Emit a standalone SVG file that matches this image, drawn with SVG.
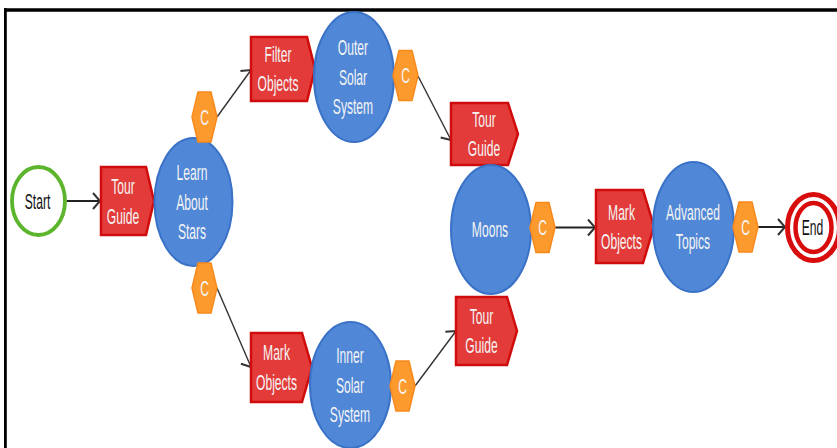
<svg xmlns="http://www.w3.org/2000/svg" width="837" height="448" viewBox="0 0 837 448">
<style>
.t{font-family:"Liberation Sans",Arial,sans-serif;font-size:22px;text-anchor:middle;fill:#f4f4f4}
.k{fill:#111}
.blue{fill:#5087d6;stroke:#3a72c8;stroke-width:2}
.red{fill:#e23b39;stroke:#d00c0c;stroke-width:2.5;stroke-linejoin:miter}
.hex{fill:#fd9a2e;stroke:#f8891c;stroke-width:1.5}
.c{fill:none;stroke:#333;stroke-width:1.4}
.h{stroke-width:2;stroke:#222}
</style>
<defs>
<marker id="arr" markerUnits="userSpaceOnUse" orient="auto" overflow="visible" markerWidth="20" markerHeight="20" refX="0" refY="0">
<path d="M-7,-8 L0,0 L-7,8" fill="none" stroke="#333" stroke-width="2"/>
</marker>
</defs>
<rect width="837" height="448" fill="#fff"/>
<g id="frame" stroke="#000">
<line x1="4" y1="10" x2="837" y2="10" stroke-width="3.7"/>
<line x1="5.4" y1="8.2" x2="5.4" y2="448" stroke-width="2.8"/>
</g>
<g id="connectors">
<line class="c h" x1="66.5" y1="201" x2="100" y2="201" marker-end="url(#arr)"/>
<line class="c" x1="217" y1="117" x2="251" y2="70" marker-end="url(#arr)"/>
<line class="c" x1="217" y1="288" x2="251" y2="367" marker-end="url(#arr)"/>
<line class="c" x1="418" y1="76" x2="451" y2="140" marker-end="url(#arr)"/>
<line class="c" x1="415" y1="386" x2="456" y2="331" marker-end="url(#arr)"/>
<line class="c h" x1="555" y1="227.5" x2="595" y2="227.5" marker-end="url(#arr)"/>
<line class="c h" x1="758" y1="227" x2="785" y2="227" marker-end="url(#arr)"/>
</g>
<g id="start">
<ellipse cx="38.5" cy="201" rx="26.5" ry="34" fill="#fff" stroke="#5cb52c" stroke-width="3.8"/>
<g transform="translate(37.5,0) scale(0.55,1)"><text class="t k" x="0" y="209">Start</text></g>
</g>
<g id="tourguide1">
<polygon class="red" points="101,167 146,167 154,201 146,235 101,235"/>
<g transform="translate(123,0) scale(0.55,1)"><text class="t" x="0" y="194">Tour</text><text class="t" x="0" y="224.5">Guide</text></g>
</g>
<g id="learn">
<ellipse class="blue" cx="193.5" cy="202" rx="39" ry="64"/>
<g transform="translate(192,0) scale(0.55,1)"><text class="t" x="0" y="180.5">Learn</text><text class="t" x="0" y="210">About</text><text class="t" x="0" y="239.5">Stars</text></g>
</g>
<g id="c1">
<polygon class="hex" points="192,117 198,92 211,92 217,117 211,142 198,142"/>
<g transform="translate(204.5,0) scale(0.55,1)"><text class="t" x="0" y="125">C</text></g>
</g>
<g id="c2">
<polygon class="hex" points="192,288 198,263 211,263 217,288 211,313 198,313"/>
<g transform="translate(204.5,0) scale(0.55,1)"><text class="t" x="0" y="296">C</text></g>
</g>
<g id="filter">
<polygon class="red" points="251,37 307,37 315,69 307,101 251,101"/>
<g transform="translate(278,0) scale(0.55,1)"><text class="t" x="0" y="62">Filter</text><text class="t" x="0" y="91.5">Objects</text></g>
</g>
<g id="outer">
<ellipse class="blue" cx="354" cy="77" rx="40" ry="65"/>
<g transform="translate(353,0) scale(0.55,1)"><text class="t" x="0" y="55.4">Outer</text><text class="t" x="0" y="84.9">Solar</text><text class="t" x="0" y="114.4">System</text></g>
</g>
<g id="c3">
<polygon class="hex" points="393,75.5 399,50.5 412,50.5 418,75.5 412,100.5 399,100.5"/>
<g transform="translate(405.5,0) scale(0.55,1)"><text class="t" x="0" y="83.5">C</text></g>
</g>
<g id="tourguide2">
<polygon class="red" points="451,103 508,103 518,134 508,165 451,165"/>
<g transform="translate(484,0) scale(0.55,1)"><text class="t" x="0" y="127">Tour</text><text class="t" x="0" y="156.5">Guide</text></g>
</g>
<g id="moons">
<ellipse class="blue" cx="491" cy="229.5" rx="40" ry="64.5"/>
<g transform="translate(490,0) scale(0.55,1)"><text class="t" x="0" y="237.5">Moons</text></g>
</g>
<g id="c4">
<polygon class="hex" points="530,227.5 536,202.5 549,202.5 555,227.5 549,252.5 536,252.5"/>
<g transform="translate(542.5,0) scale(0.55,1)"><text class="t" x="0" y="235.5">C</text></g>
</g>
<g id="tourguide3">
<polygon class="red" points="456,297 507,297 517,331 507,365 456,365"/>
<g transform="translate(481.5,0) scale(0.55,1)"><text class="t" x="0" y="324">Tour</text><text class="t" x="0" y="353.5">Guide</text></g>
</g>
<g id="mark1">
<polygon class="red" points="251,333 302,333 312,367.5 302,402 251,402"/>
<g transform="translate(276.5,0) scale(0.55,1)"><text class="t" x="0" y="360.5">Mark</text><text class="t" x="0" y="390">Objects</text></g>
</g>
<g id="inner">
<ellipse class="blue" cx="350.5" cy="385" rx="40.5" ry="63"/>
<g transform="translate(350,0) scale(0.55,1)"><text class="t" x="0" y="363.4">Inner</text><text class="t" x="0" y="392.9">Solar</text><text class="t" x="0" y="422.4">System</text></g>
</g>
<g id="c5">
<polygon class="hex" points="390,386 396,361 409,361 415,386 409,411 396,411"/>
<g transform="translate(402.5,0) scale(0.55,1)"><text class="t" x="0" y="394">C</text></g>
</g>
<g id="mark2">
<polygon class="red" points="596,190 643,190 654,226.5 643,263 596,263"/>
<g transform="translate(621.5,0) scale(0.55,1)"><text class="t" x="0" y="220">Mark</text><text class="t" x="0" y="249.5">Objects</text></g>
</g>
<g id="advanced">
<ellipse class="blue" cx="693.5" cy="227" rx="40.5" ry="65"/>
<g transform="translate(693,0) scale(0.55,1)"><text class="t" x="0" y="220">Advanced</text><text class="t" x="0" y="249.5">Topics</text></g>
</g>
<g id="c6">
<polygon class="hex" points="733,227 739,202 752,202 758,227 752,252 739,252"/>
<g transform="translate(745.5,0) scale(0.55,1)"><text class="t" x="0" y="235">C</text></g>
</g>
<g id="end">
<ellipse cx="813.5" cy="227.5" rx="26" ry="33" fill="#fff" stroke="#d80c0c" stroke-width="5"/>
<ellipse cx="813.5" cy="227.5" rx="18" ry="24.5" fill="#fff" stroke="#d80c0c" stroke-width="4.5"/>
<g transform="translate(812.5,0) scale(0.55,1)"><text class="t k" x="0" y="235.5">End</text></g>
</g>
</svg>
